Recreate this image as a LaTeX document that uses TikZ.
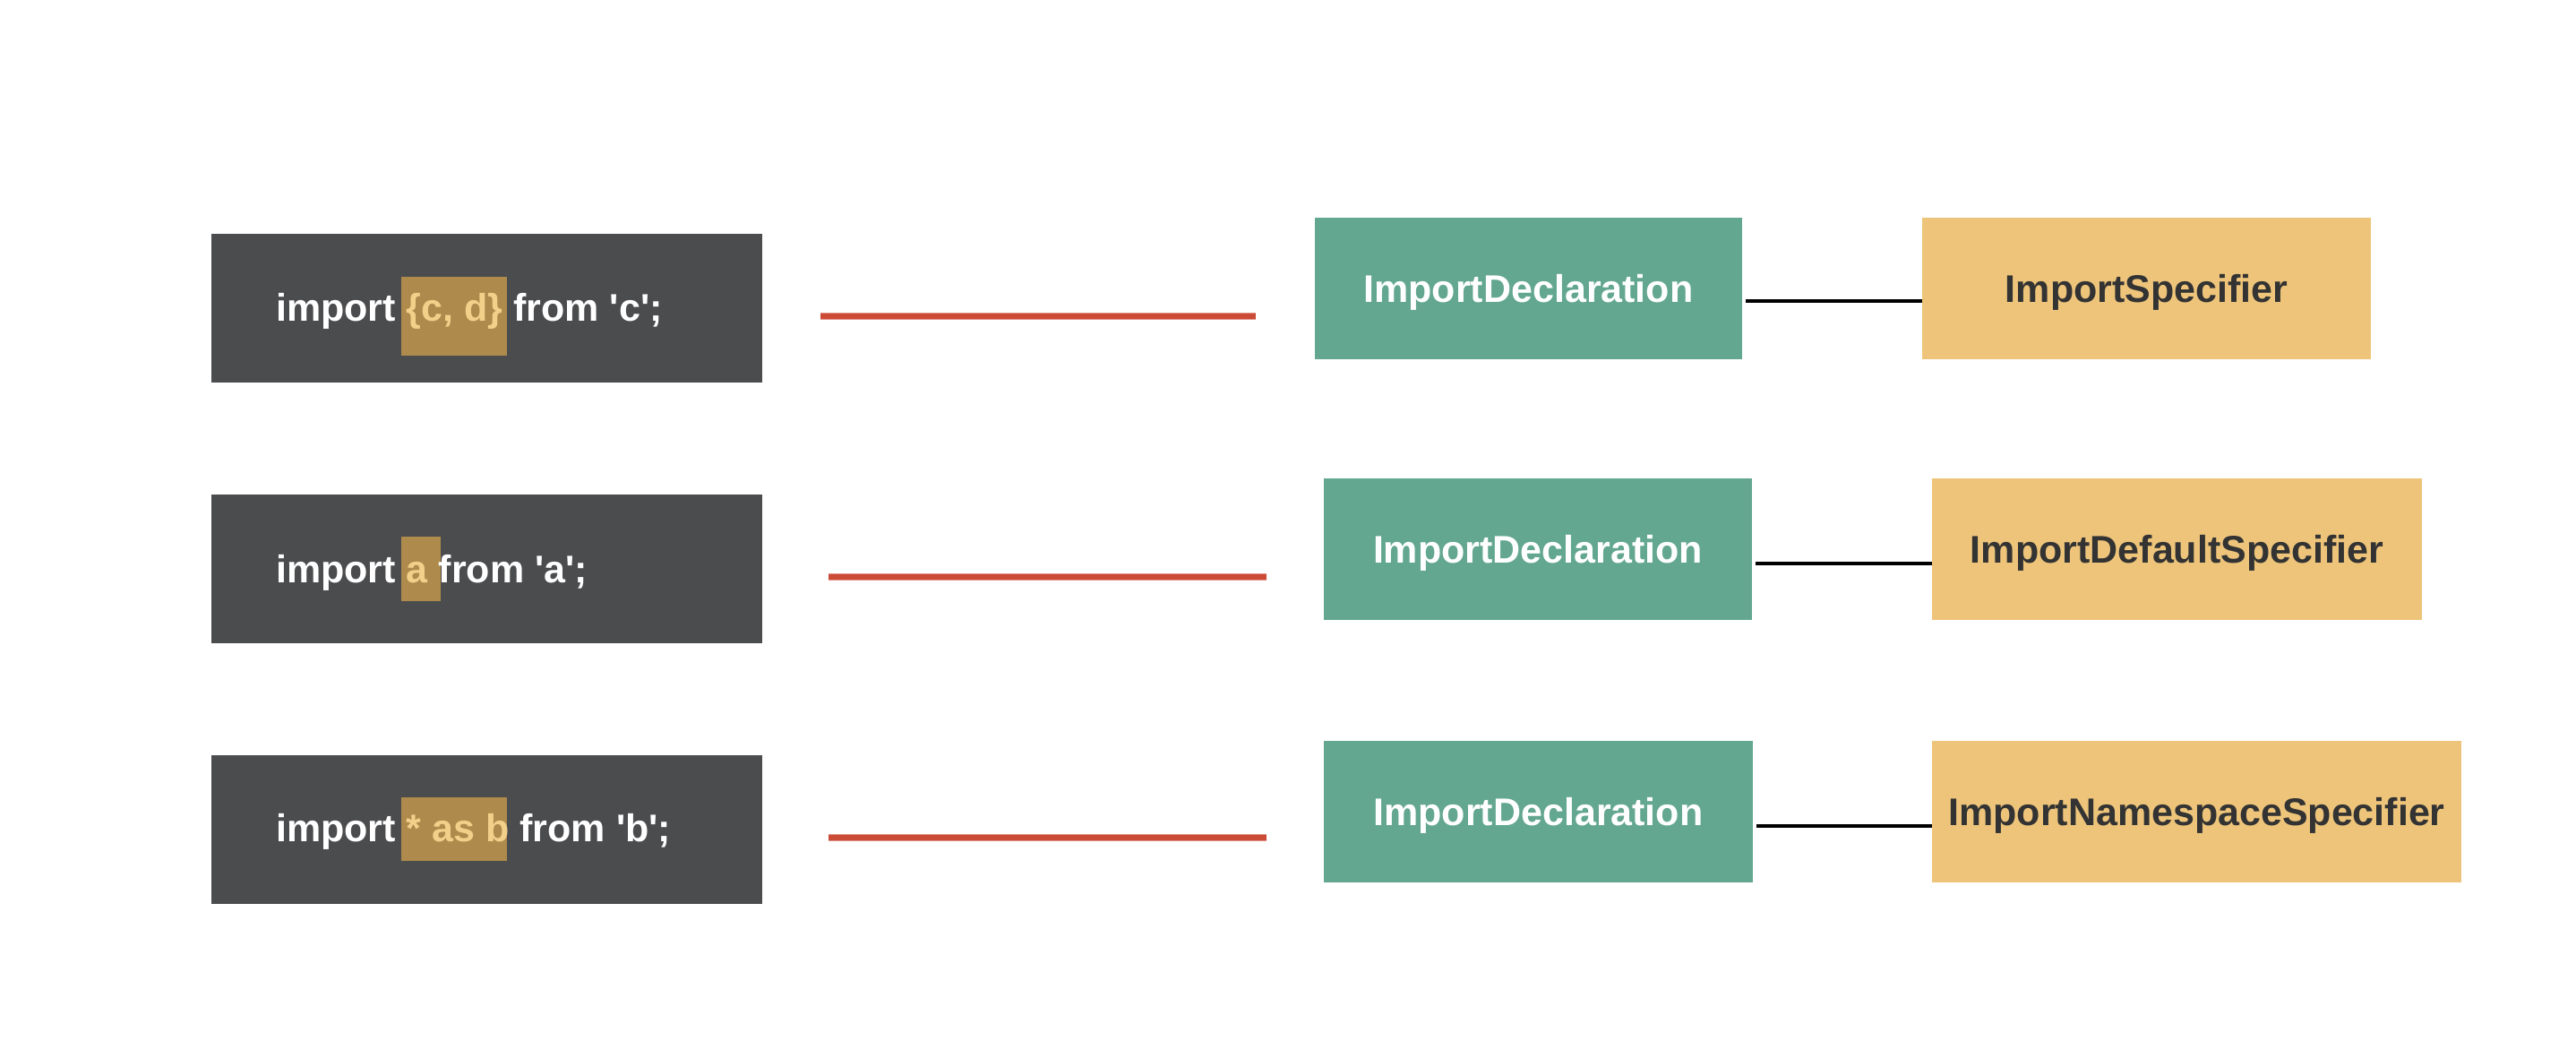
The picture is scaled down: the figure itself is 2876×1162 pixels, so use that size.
\documentclass[tikz,border=0pt]{standalone}
\usepackage{fontspec}
\setmainfont{Liberation Sans}
\definecolor{codebg}{HTML}{4B4C4E}
\definecolor{hlbg}{HTML}{AE8A4C}
\definecolor{hltext}{HTML}{F2D08A}
\definecolor{declgreen}{HTML}{63A790}
\definecolor{specyellow}{HTML}{EDC47A}
\definecolor{darktext}{HTML}{333333}
\definecolor{redmark}{HTML}{CC4B37}
\newcommand{\hl}[1]{\textcolor{hltext}{#1}}
\newcommand{\sq}{\textquotesingle}
\tikzset{
  codebox/.style={fill=codebg, draw=none, minimum width=615pt, minimum height=166pt, inner sep=0pt},
  hlbox/.style={fill=hlbg, draw=none, inner sep=0pt},
  codetext/.style={anchor=base west, text=white, inner sep=0pt, font=\fontsize{43}{50}\selectfont\bfseries},
  declbox/.style={fill=declgreen, draw=none, text=white, inner sep=0pt, minimum height=158pt,
    text height=31pt, text depth=0pt, font=\fontsize{43}{50}\selectfont\bfseries},
  specbox/.style={fill=specyellow, draw=none, text=darktext, inner sep=0pt, minimum height=158pt,
    text height=31pt, text depth=0pt, font=\fontsize{43}{50}\selectfont\bfseries},
  redglow/.style={draw=redmark!60!white, line width=8pt},
  redline/.style={draw=redmark, line width=5.5pt},
  link/.style={draw=black, line width=3.5pt},
}
\begin{document}
\begin{tikzpicture}[x=1pt, y=-1pt]
\useasboundingbox (0,0) rectangle (2876,1162);
\fill[white] (0,0) rectangle (2876,1162);

% code boxes
\node[codebox] (c1) at (543.5,344) {};
\node[codebox] (c2) at (543.5,635) {};
\node[codebox] (c3) at (543.5,926) {};

% highlights
\node[hlbox, minimum width=118pt, minimum height=88pt] (h1) at (507,353) {};
\node[hlbox, minimum width=44pt, minimum height=72pt] (h2) at (470,635) {};
\node[hlbox, minimum width=118pt, minimum height=71pt] (h3) at (507,925.5) {};

% code texts
\node[codetext] (t1) at (308,358) {import \hl{\{c, d\}} from \sq c\sq;};
\node[codetext] (t2) at (308,650) {import \hl{a} from \sq a\sq;};
\node[codetext] (t3) at (308,939) {import \hl{* as b} from \sq b\sq;};

% declaration boxes
\node[declbox, minimum width=477pt] (g1) at (1706.5,321.5) {ImportDeclaration};
\node[declbox, minimum width=478pt] (g2) at (1717,613) {ImportDeclaration};
\node[declbox, minimum width=479pt] (g3) at (1717.5,906) {ImportDeclaration};

% specifier boxes
\node[specbox, minimum width=501pt] (s1) at (2396.5,321.5) {ImportSpecifier};
\node[specbox, minimum width=547pt] (s2) at (2430.5,613) {ImportDefaultSpecifier};
\node[specbox, minimum width=591pt] (s3) at (2452.5,906) {ImportNamespaceSpecifier};

% red marks between code and declaration
\coordinate (r1s) at ([xshift=65pt,yshift=-9pt]c1.east);
\coordinate (r1e) at ([xshift=-66pt]g1.west);
\coordinate (r2s) at ([xshift=74pt,yshift=-9pt]c2.east);
\coordinate (r2e) at ([xshift=-64pt]g2.west);
\coordinate (r3s) at ([xshift=74pt,yshift=-9pt]c3.east);
\coordinate (r3e) at ([xshift=-64pt]g3.west);
\foreach \i in {1,2,3}{
  \draw[redglow] (r\i s) -- (r\i s -| r\i e);
  \draw[redline] (r\i s) -- (r\i s -| r\i e);
}

% links
\coordinate (l1) at ([xshift=4pt,yshift=-14.5pt]g1.east);
\coordinate (l2) at ([xshift=4pt,yshift=-16pt]g2.east);
\coordinate (l3) at ([xshift=4pt,yshift=-16pt]g3.east);
\draw[link] (l1) -- (l1 -| s1.west);
\draw[link] (l2) -- (l2 -| s2.west);
\draw[link] (l3) -- (l3 -| s3.west);
\end{tikzpicture}
\end{document}
